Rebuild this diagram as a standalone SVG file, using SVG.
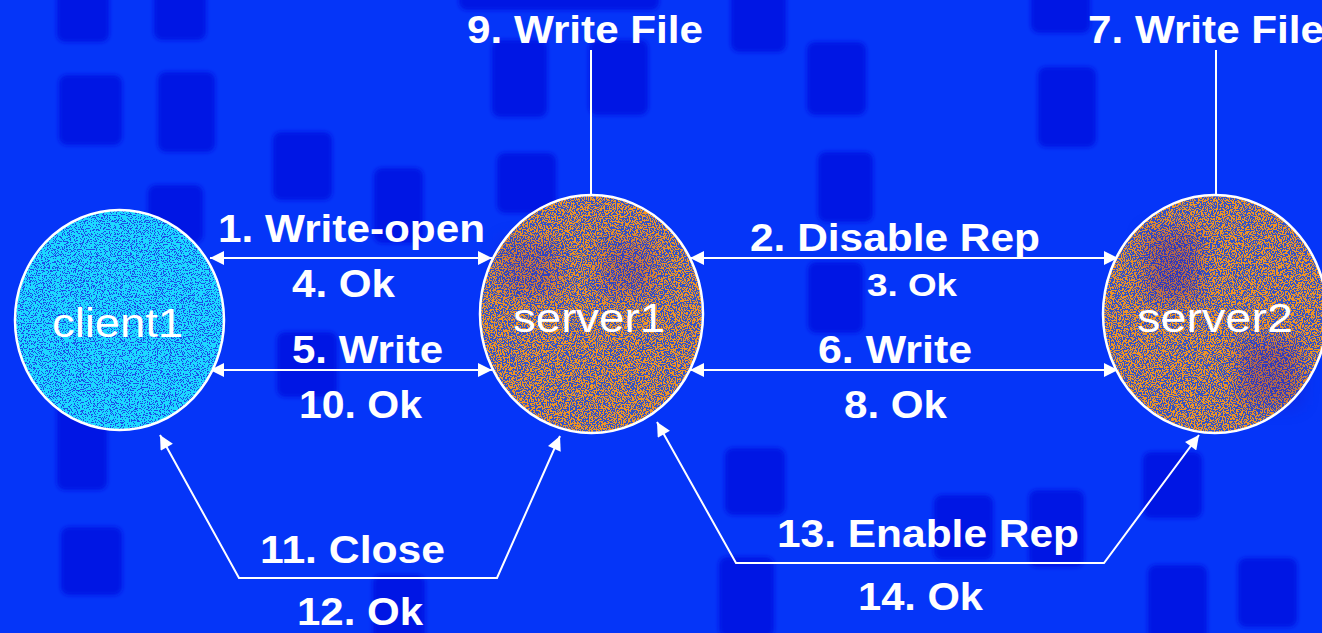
<svg xmlns="http://www.w3.org/2000/svg" width="1322" height="633" viewBox="0 0 1322 633">
  <style>
    .label { font-family: "Liberation Sans", Arial, sans-serif; font-weight: bold; font-size: 38px; fill: #ffffff; }
    .small { font-size: 32px; }
    .name { font-family: "Liberation Sans", Arial, sans-serif; font-size: 40px; fill: #ffffff; }
    .edge { fill: none; stroke: #ffffff; stroke-width: 2; }
    .rim { fill: none; stroke: #ffffff; stroke-width: 2.5; }
    .tile { fill: #0212e4; }
  </style>
  <defs>
    <marker id="head" viewBox="0 0 14 14" refX="14" refY="7" markerWidth="15" markerHeight="14" markerUnits="userSpaceOnUse" orient="auto-start-reverse">
      <path d="M0,0 L14,7 L0,14 Z" fill="#ffffff"/>
    </marker>
    <filter id="soft" x="-10%" y="-10%" width="120%" height="120%">
      <feGaussianBlur stdDeviation="2"/>
    </filter>
    <filter id="blotch" x="-50%" y="-50%" width="200%" height="200%">
      <feGaussianBlur stdDeviation="10"/>
    </filter>
    <!-- speckled cyan surface -->
    <filter id="grain-cool" x="0" y="0" width="100%" height="100%">
      <feTurbulence type="fractalNoise" baseFrequency="0.85" numOctaves="2" seed="7" result="noise"/>
      <feColorMatrix in="noise" type="matrix" values="0 0 0 0 0  0 0 0 0 0  0 0 0 0 0  1.6 0 0 0 -0.2" result="m"/>
      <feComponentTransfer in="m" result="mask"><feFuncA type="discrete" tableValues="0 1"/></feComponentTransfer>
      <feFlood flood-color="#1cd8ff"/>
      <feComposite in2="mask" operator="in" result="dots"/>
      <feComposite in="dots" in2="SourceGraphic" operator="atop"/>
    </filter>
    <!-- speckled orange surface -->
    <filter id="grain-warm" x="0" y="0" width="100%" height="100%">
      <feTurbulence type="fractalNoise" baseFrequency="0.85" numOctaves="2" seed="3" result="noise"/>
      <feColorMatrix in="noise" type="matrix" values="0 0 0 0 0  0 0 0 0 0  0 0 0 0 0  1.6 0 0 0 -0.3" result="m"/>
      <feComponentTransfer in="m" result="mask"><feFuncA type="discrete" tableValues="0 1"/></feComponentTransfer>
      <feFlood flood-color="#ee9428"/>
      <feComposite in2="mask" operator="in" result="dots"/>
      <feComposite in="dots" in2="SourceGraphic" operator="atop"/>
    </filter>
  </defs>

  <!-- backdrop -->
  <rect x="0" y="0" width="1322" height="633" fill="#0535f8"/>
  <g id="backdrop-tiles" filter="url(#soft)">
    <rect class="tile" x="57" y="-20" width="52" height="62" rx="8"/>
    <rect class="tile" x="154" y="-20" width="52" height="60" rx="8"/>
    <rect class="tile" x="59" y="75" width="63" height="70" rx="8"/>
    <rect class="tile" x="158" y="72" width="57" height="80" rx="8"/>
    <rect class="tile" x="148" y="185" width="55" height="58" rx="8"/>
    <rect class="tile" x="273" y="132" width="59" height="68" rx="8"/>
    <rect class="tile" x="374" y="168" width="49" height="75" rx="8"/>
    <rect class="tile" x="277" y="332" width="60" height="65" rx="8"/>
    <rect class="tile" x="459" y="-30" width="200" height="40" rx="8"/>
    <rect class="tile" x="492" y="40" width="55" height="77" rx="8"/>
    <rect class="tile" x="589" y="40" width="59" height="75" rx="8"/>
    <rect class="tile" x="497" y="153" width="59" height="60" rx="8"/>
    <rect class="tile" x="731" y="-20" width="55" height="72" rx="8"/>
    <rect class="tile" x="807" y="42" width="59" height="73" rx="8"/>
    <rect class="tile" x="818" y="152" width="55" height="70" rx="8"/>
    <rect class="tile" x="808" y="262" width="55" height="71" rx="8"/>
    <rect class="tile" x="1031" y="-20" width="59" height="53" rx="8"/>
    <rect class="tile" x="1038" y="67" width="58" height="80" rx="8"/>
    <rect class="tile" x="57" y="400" width="50" height="90" rx="8"/>
    <rect class="tile" x="61" y="527" width="61" height="68" rx="8"/>
    <rect class="tile" x="373" y="575" width="52" height="70" rx="8"/>
    <rect class="tile" x="725" y="448" width="60" height="67" rx="8"/>
    <rect class="tile" x="934" y="495" width="59" height="65" rx="8"/>
    <rect class="tile" x="1029" y="490" width="55" height="77" rx="8"/>
    <rect class="tile" x="1143" y="452" width="59" height="66" rx="8"/>
    <rect class="tile" x="719" y="557" width="55" height="80" rx="8"/>
    <rect class="tile" x="1148" y="565" width="59" height="75" rx="8"/>
    <rect class="tile" x="1238" y="558" width="59" height="69" rx="8"/>
  </g>

  <!-- connectors -->
  <g id="connectors">
    <line class="edge" x1="210" y1="258" x2="492" y2="258" marker-start="url(#head)" marker-end="url(#head)"/>
    <line class="edge" x1="210" y1="370" x2="492" y2="370" marker-start="url(#head)" marker-end="url(#head)"/>
    <line class="edge" x1="690" y1="258" x2="1118" y2="258" marker-start="url(#head)" marker-end="url(#head)"/>
    <line class="edge" x1="690" y1="370" x2="1118" y2="370" marker-start="url(#head)" marker-end="url(#head)"/>
    <line class="edge" x1="591" y1="50" x2="591" y2="195"/>
    <line class="edge" x1="1216" y1="50" x2="1216" y2="195"/>
    <polyline class="edge" points="160,435 239,578 497,578 560,436" marker-start="url(#head)" marker-end="url(#head)"/>
    <polyline class="edge" points="657,422 736,563 1104,563 1199,435" marker-start="url(#head)" marker-end="url(#head)"/>
  </g>

  <!-- nodes -->
  <g id="client1">
    <ellipse cx="119.5" cy="320" rx="104.5" ry="110" fill="#1d4fe6" filter="url(#grain-cool)"/>
    <ellipse class="rim" cx="119.5" cy="320" rx="104.5" ry="110"/>
    <text class="name" x="52" y="337" textLength="131" lengthAdjust="spacingAndGlyphs">client1</text>
  </g>
  <g id="server1">
    <ellipse cx="591.5" cy="314" rx="111.5" ry="119" fill="#3553c6" filter="url(#grain-warm)"/>
    <g filter="url(#blotch)" opacity="0.2">
      <rect x="500" y="240" width="60" height="55" fill="#2a00a0"/>
      <rect x="600" y="240" width="55" height="55" fill="#2a00a0"/>
    </g>
    <ellipse class="rim" cx="591.5" cy="314" rx="111.5" ry="119"/>
    <text class="name" x="513" y="332" textLength="152" lengthAdjust="spacingAndGlyphs">server1</text>
  </g>
  <g id="server2">
    <ellipse cx="1215" cy="314" rx="112" ry="119" fill="#3553c6" filter="url(#grain-warm)"/>
    <g filter="url(#blotch)" opacity="0.3">
      <rect x="1145" y="230" width="55" height="70" fill="#2a00a0"/>
      <rect x="1240" y="340" width="60" height="65" fill="#2a00a0"/>
    </g>
    <ellipse class="rim" cx="1215" cy="314" rx="112" ry="119"/>
    <text class="name" x="1137" y="332" textLength="156" lengthAdjust="spacingAndGlyphs">server2</text>
  </g>

  <!-- message labels -->
  <g id="labels">
    <text class="label" x="467" y="43" textLength="236" lengthAdjust="spacingAndGlyphs">9. Write File</text>
    <text class="label" x="1088" y="43" textLength="236" lengthAdjust="spacingAndGlyphs">7. Write File</text>
    <text class="label" x="218" y="242" textLength="267" lengthAdjust="spacingAndGlyphs">1. Write-open</text>
    <text class="label" x="292" y="297" textLength="103" lengthAdjust="spacingAndGlyphs">4. Ok</text>
    <text class="label" x="292" y="363" textLength="151" lengthAdjust="spacingAndGlyphs">5. Write</text>
    <text class="label" x="299" y="418" textLength="123" lengthAdjust="spacingAndGlyphs">10. Ok</text>
    <text class="label" x="750" y="251" textLength="290" lengthAdjust="spacingAndGlyphs">2. Disable Rep</text>
    <text class="label small" x="867" y="296" textLength="90" lengthAdjust="spacingAndGlyphs">3. Ok</text>
    <text class="label" x="818" y="363" textLength="154" lengthAdjust="spacingAndGlyphs">6. Write</text>
    <text class="label" x="844" y="418" textLength="103" lengthAdjust="spacingAndGlyphs">8. Ok</text>
    <text class="label" x="260" y="563" textLength="185" lengthAdjust="spacingAndGlyphs">11. Close</text>
    <text class="label" x="297" y="625" textLength="126" lengthAdjust="spacingAndGlyphs">12. Ok</text>
    <text class="label" x="777" y="547" textLength="302" lengthAdjust="spacingAndGlyphs">13. Enable Rep</text>
    <text class="label" x="858" y="610" textLength="125" lengthAdjust="spacingAndGlyphs">14. Ok</text>
  </g>
</svg>
